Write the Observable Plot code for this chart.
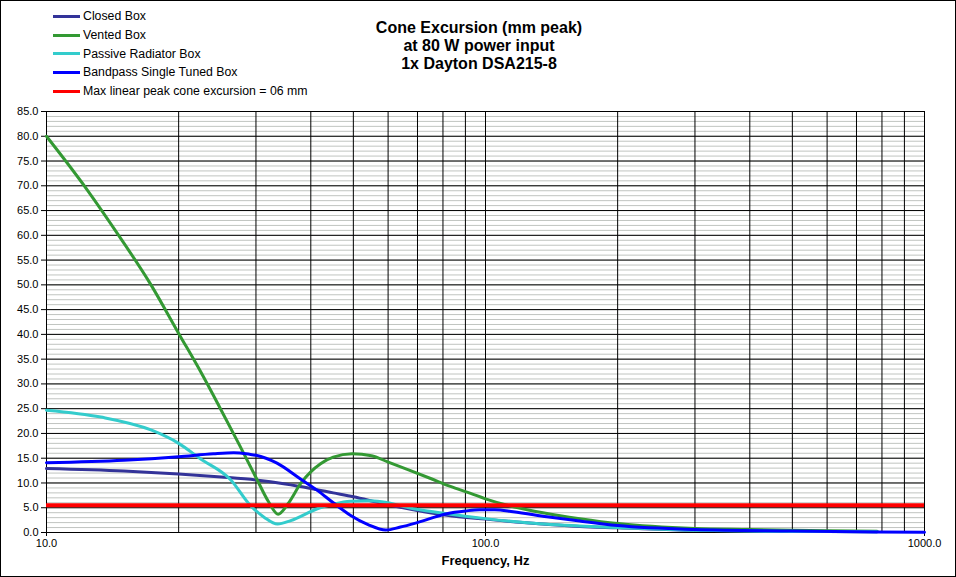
<!DOCTYPE html>
<html>
<head>
<meta charset="utf-8">
<script src="https://cdn.jsdelivr.net/npm/d3@7"></script>
<script src="https://cdn.jsdelivr.net/npm/@observablehq/plot@0.6"></script>
<style>
  html, body { margin: 0; padding: 0; background: #fff; }
  #wrap { position: relative; width: 954px; height: 575px; border: 1px solid #000; background: #fff; overflow: hidden; font-family: "Liberation Sans", Arial, sans-serif; }
  #header { position: relative; height: 100px; }
  #legend { position: absolute; left: 52px; top: 6px; font-size: 12.3px; color: #000; }
  #legend .row { height: 18.7px; display: flex; align-items: center; white-space: nowrap; }
  #legend .sw { display: inline-block; width: 27px; height: 3px; margin-right: 3px; }
  #title { position: absolute; left: 0; width: 956px; top: 18px; text-align: center; font-weight: bold; font-size: 16px; line-height: 18px; color: #000; }
  #chart svg { display: block; font-family: "Liberation Sans", Arial, sans-serif; }
</style>
</head>
<body>
<div id="wrap">
  <div id="header">
    <div id="legend"></div>
    <div id="title">Cone Excursion (mm peak)<br>at 80 W power input<br>1x Dayton DSA215-8</div>
  </div>
  <div id="chart"></div>
</div>
<script>
// ---- Data ----
const seriesNames = ["Closed Box", "Vented Box", "Passive Radiator Box", "Bandpass Single Tuned Box"];
const maxLinearLabel = "Max linear peak cone excursion = 06 mm";
const maxLinearValue = [5.5];

const closedFreq = [10, 15, 20, 25, 30, 35, 40, 45, 50, 58, 68.5, 81.6, 100, 130, 164, 200, 300, 400, 500, 600, 780];
const closedVals = [12.9, 12.4, 11.8, 11.2, 10.6, 9.8, 8.9, 8.0, 7.2, 5.9, 4.6, 3.5, 2.7, 1.8, 1.2, 0.95, 0.45, 0.3, 0.22, 0.18, 0.15];

const ventedFreq = [10, 12.4, 14.6, 17.3, 20, 22.5, 24.9, 27.5, 30.2, 32, 33.7, 35.5, 38, 42.1, 45, 49.7, 55, 59.7, 67, 75, 83.2, 92.5, 100, 111, 126, 148, 164, 200, 300, 400, 500, 600, 780];
const ventedVals = [80, 69.1, 60.0, 50.0, 40.2, 32.3, 25.0, 17.7, 10.6, 6.3, 3.7, 5.8, 10.0, 13.9, 15.2, 15.9, 15.5, 14.3, 12.6, 10.9, 9.3, 7.9, 6.8, 5.6, 4.5, 3.4, 2.8, 1.8, 0.8, 0.6, 0.45, 0.35, 0.25];

const passiveFreq = [10, 13.3, 17.3, 20, 22.4, 26.3, 29.1, 31.3, 33.6, 36, 41.4, 45, 49.2, 54, 58, 68.5, 81.6, 100, 126, 164, 200, 300, 400, 500, 600, 780];
const passiveVals = [24.7, 23.3, 20.7, 18.0, 14.9, 10.6, 5.5, 3.1, 1.7, 2.4, 4.8, 5.7, 6.3, 6.4, 6.2, 4.8, 3.8, 2.8, 1.9, 1.3, 1.0, 0.45, 0.3, 0.22, 0.18, 0.15];

const bandpassFreq = [10, 15, 20, 24, 26.7, 29, 30, 33.5, 37.9, 41.4, 45, 49.2, 54, 59.3, 64, 69.9, 81.6, 90, 96.9, 105, 115.6, 138, 164, 200, 300, 500, 700, 1000];
const bandpassVals = [14.1, 14.6, 15.3, 15.9, 16.1, 15.8, 15.6, 14.0, 10.8, 8.5, 6.0, 3.5, 1.6, 0.5, 1.1, 2.0, 3.8, 4.35, 4.6, 4.6, 4.2, 3.2, 2.3, 1.4, 0.6, 0.3, 0.15, 0.05];

const xTickLabels = [10, 100, 1000];
const yMajorTicks = d3.range(0, 86, 5);
const yMinorTicks = d3.range(0, 86, 1);
const xGridLines = [10, 20, 30, 40, 50, 60, 70, 80, 90, 100, 200, 300, 400, 500, 600, 700, 800, 900, 1000];

const colors = ["#333399", "#339933", "#33CCCC", "#0000FF"];
const redColor = "#FF0000";

// ---- Build tables ----
const toRows = (fs, vs, name) => fs.map((f, i) => ({ f, v: vs[i], name }));
const closed = toRows(closedFreq, closedVals, seriesNames[0]);
const vented = toRows(ventedFreq, ventedVals, seriesNames[1]);
const passive = toRows(passiveFreq, passiveVals, seriesNames[2]);
const bandpass = toRows(bandpassFreq, bandpassVals, seriesNames[3]);

// ---- Legend ----
const legend = document.getElementById("legend");
[...seriesNames, maxLinearLabel].forEach((n, i) => {
  const row = document.createElement("div");
  row.className = "row";
  const sw = document.createElement("span");
  sw.className = "sw";
  sw.style.background = i < 4 ? colors[i] : redColor;
  const t = document.createElement("span");
  t.textContent = n;
  row.appendChild(sw); row.appendChild(t);
  legend.appendChild(row);
});

// ---- Chart ----
const lineOpts = (c) => ({ x: "f", y: "v", stroke: c, strokeWidth: 3, curve: "monotone-x" });

const chart = Plot.plot({
  width: 954,
  height: 475,
  marginLeft: 45,
  marginRight: 31,
  marginTop: 10,
  marginBottom: 44,
  style: { background: "#fff", color: "#000", fontSize: "11px" },
  x: { type: "log", domain: [10, 1000] },
  y: { domain: [0, 85] },
  marks: [
    Plot.ruleY(yMinorTicks, { stroke: "#c0c4c0", strokeWidth: 1 }),
    Plot.ruleY(yMajorTicks, { stroke: "#000", strokeWidth: 1 }),
    Plot.ruleX(xGridLines, { stroke: "#000", strokeWidth: 1 }),
    Plot.axisY({ ticks: yMajorTicks, tickFormat: d => d.toFixed(1), tickSize: 5, tickPadding: 3, label: null, fontSize: 11 }),
    Plot.axisX({ ticks: xTickLabels, tickFormat: d => d.toFixed(1), tickSize: 4, tickPadding: 3, label: null, fontSize: 11 }),
    Plot.line(closed, lineOpts(colors[0])),
    Plot.line(vented, lineOpts(colors[1])),
    Plot.line(passive, lineOpts(colors[2])),
    Plot.line(bandpass, lineOpts(colors[3])),
    Plot.ruleY(maxLinearValue, { stroke: redColor, strokeWidth: 4 }),
    Plot.text(["Frequency, Hz"], { text: d => d, frameAnchor: "bottom", dy: 32, fontWeight: "bold", fontSize: 13, fill: "#000" })
  ]
});
document.getElementById("chart").appendChild(chart);
</script>
</body>
</html>
